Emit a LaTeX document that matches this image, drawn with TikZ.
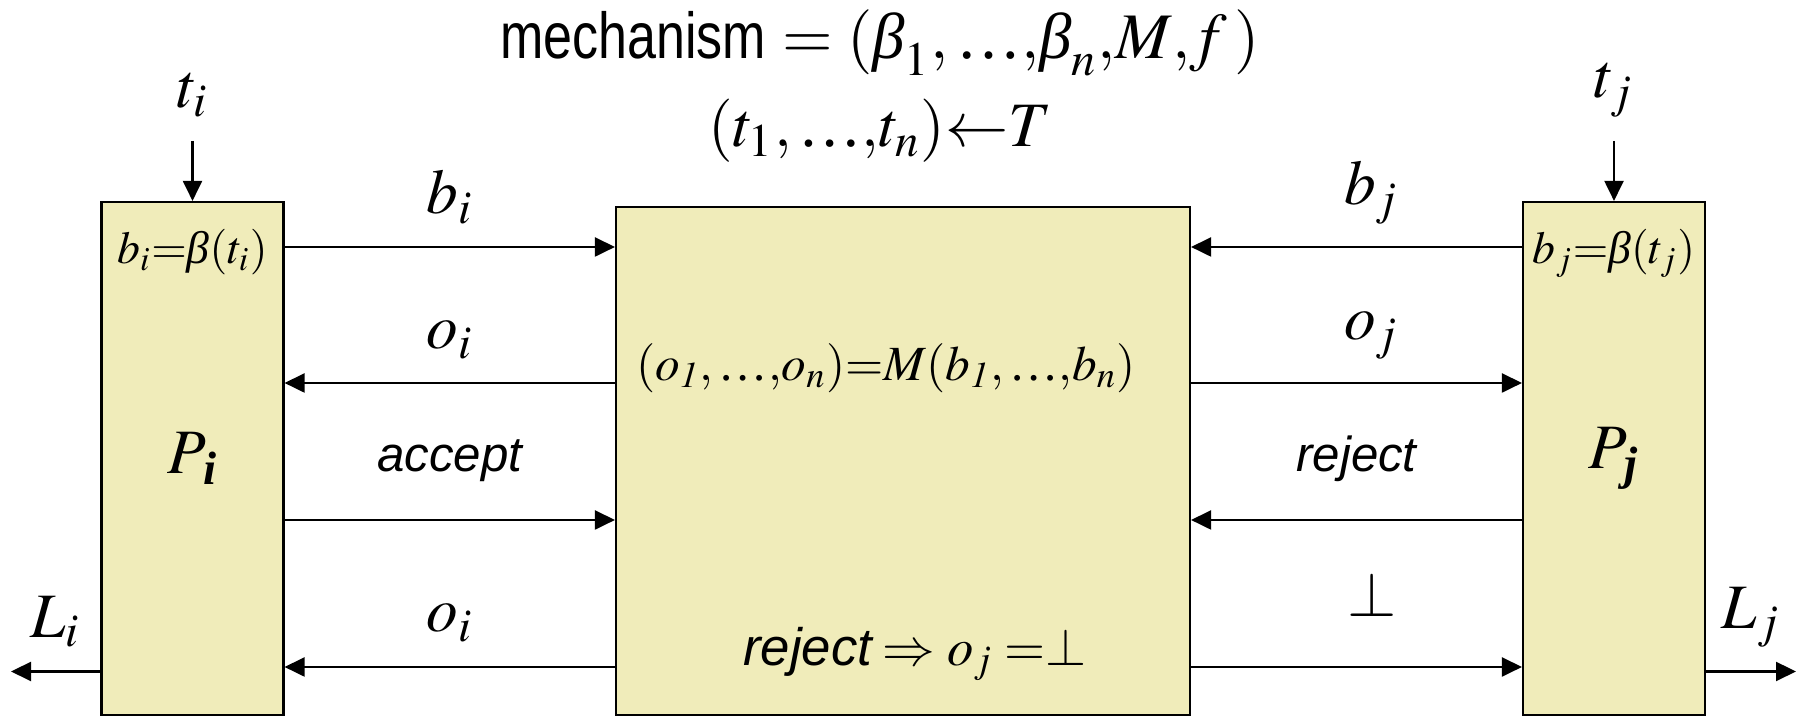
\documentclass[tikz,border=0pt]{standalone}
\usepackage{amsmath}
\usepackage{mathptmx}
\usepackage{fontspec}
\setmainfont{Liberation Serif}
\setsansfont{Liberation Sans}
\usetikzlibrary{arrows.meta, positioning, calc}
\usepackage{xcolor}
\definecolor{boxfill}{RGB}{240,236,186}
\newcommand{\ellip}{\mbox{\normalfont …}}
\newcommand{\bet}{\mbox{\itshape β}}

\begin{document}
\begin{tikzpicture}[
  box/.style  = {draw, fill=boxfill, line width=0.6pt, inner sep=0pt},
  lbl/.style  = {inner sep=0pt, font=\fontsize{18}{20}\selectfont},
  frm/.style  = {inner sep=0pt, font=\fontsize{13}{15}\selectfont},
  word/.style = {inner sep=0pt, font=\fontsize{14}{16}\selectfont\sffamily\itshape},
  arr/.style  = {-{Triangle[length=2mm, width=1.9mm]}, line width=0.6pt},
]
\useasboundingbox (0,0) rectangle (18.01,7.17);

% ── Players and mechanism ────────────────────────────────────────────────────
\node[box, lbl, minimum width=1.82cm, minimum height=5.13cm] (Pi)   at (1.925,2.585) {$P_{\,\textbf{\textit{i}}}$};
\node[box,      minimum width=5.74cm, minimum height=5.08cm] (mech) at (9.03,2.56)   {};
\node[box, lbl, minimum width=1.82cm, minimum height=5.13cm] (Pj)   at (16.14,2.585) {$P_{\,\textbf{\textit{j}}}$};

\node[frm, below=0.28cm of Pi.north] (bidef) {$b_i{=}\bet(t_i)$};
\node[frm, below=0.28cm of Pj.north] (bjdef) {$b_j{=}\bet(t_j)$};
\node[frm, font=\fontsize{14}{16}\selectfont] (outc) at (8.86,3.49)
  {$(o_{\mathit{1}}{,}\,\ellip{,}o_n){=}M(b_{\mathit{1}}{,}\,\ellip{,}b_n)$};
\node[frm, font=\fontsize{15}{17}\selectfont] (rule) at (9.15,0.63)
  {\textsf{\itshape reject}\,$\Rightarrow o_j\;{=}{\perp}$};

% ── Title ────────────────────────────────────────────────────────────────────
\node[inner sep=0pt, font=\fontsize{18.5}{20}\selectfont] (title) at (8.80,6.74)
  {\scalebox{0.8}[1]{\sffamily mechanism} $=(\bet_1{,}\,\ellip{,}\bet_n{,}M{,}f\,)$};
\node[inner sep=0pt, font=\fontsize{18}{20}\selectfont] (types) at (8.80,5.86)
  {$(t_1{,}\,\ellip{,}t_n){\leftarrow}T$};

% ── Types in, losses out ─────────────────────────────────────────────────────
\coordinate[above=0.60cm of Pi.north] (ti);
\coordinate[above=0.60cm of Pj.north] (tj);
\node[lbl, above=0.23cm of ti] (lti) {$t_i$};
\node[lbl, above=0.23cm of tj] (ltj) {$t_j$};
\draw[arr] (ti) -- (Pi.north);
\draw[arr] (tj) -- (Pj.north);

\coordinate (li) at (0.11,0.455);
\coordinate (lj) at (17.96,0.455);
\draw[arr] (Pi.west |- li) -- node[lbl, above=0.23cm] (lLi) {$L_i$} (li);
\draw[arr] (Pj.east |- lj) -- node[lbl, above=0.23cm] (lLj) {$L_j$} (lj);

% ── Messages ─────────────────────────────────────────────────────────────────
\coordinate (r1) at (0,4.70);
\coordinate (r2) at (0,3.34);
\coordinate (r3) at (0,1.97);
\coordinate (r4) at (0,0.50);

\draw[arr] (Pi.east |- r1) -- node[lbl, above=0.22cm] (lbi) {$b_i$} (mech.west |- r1);
\draw[arr] (mech.west |- r2) -- node[lbl, above=0.23cm] (loi) {$o_i$} (Pi.east |- r2);
\draw[arr] (Pi.east |- r3) -- node[word, above=0.37cm] (lacc) {accept} (mech.west |- r3);
\draw[arr] (mech.west |- r4) -- node[lbl, above=0.24cm] (loi2) {$o_i$} (Pi.east |- r4);

\draw[arr] (Pj.west |- r1) -- node[lbl, above=0.22cm, xshift=0.15cm] (lbj) {$b_j$} (mech.east |- r1);
\draw[arr] (mech.east |- r2) -- node[lbl, above=0.23cm, xshift=0.15cm] (loj) {$o_j$} (Pj.west |- r2);
\draw[arr] (Pj.west |- r3) -- node[word, above=0.37cm] (lrej) {reject} (mech.east |- r3);
\draw[arr] (mech.east |- r4) -- node[lbl, above=0.49cm, xshift=0.16cm] (lbot) {$\perp$} (Pj.west |- r4);
\end{tikzpicture}
\end{document}
